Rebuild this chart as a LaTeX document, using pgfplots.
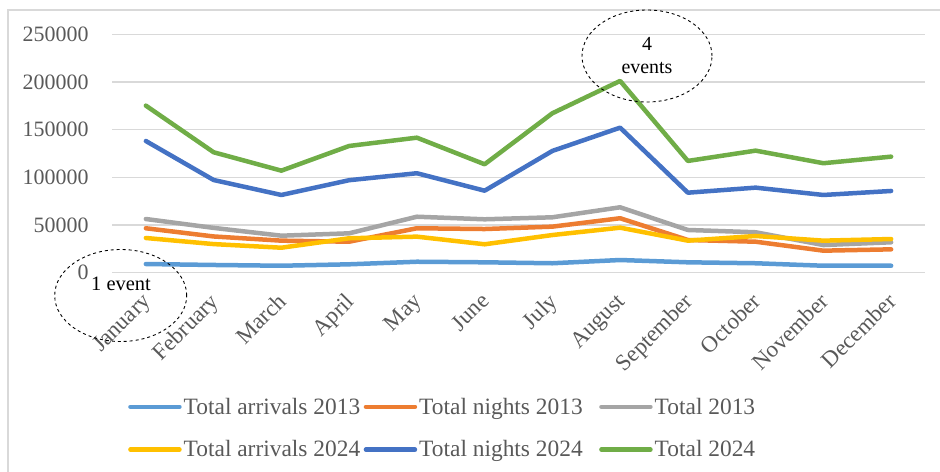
\documentclass[border=0pt]{standalone}
\usepackage{fontspec}
\setmainfont{Liberation Serif}
\usepackage{pgfplots}
\pgfplotsset{compat=1.18}
\definecolor{cA13}{HTML}{5B9BD5}
\definecolor{cN13}{HTML}{ED7D31}
\definecolor{cT13}{HTML}{A5A5A5}
\definecolor{cA24}{HTML}{FFC000}
\definecolor{cN24}{HTML}{4472C4}
\definecolor{cT24}{HTML}{70AD47}
\definecolor{gridc}{HTML}{D9D9D9}
\definecolor{tickc}{HTML}{595959}
\begin{document}
\begin{tikzpicture}
\useasboundingbox (0bp,0bp) rectangle (940bp,472bp);
\draw[gridc, line width=2bp] (8bp,0bp) -- (8bp,462bp) -- (940bp,462bp);
\begin{axis}[
  at={(112bp,199.3bp)}, anchor=south west,
  scale only axis, width=813bp, height=238.4bp,
  xmin=-0.5, xmax=11.5, ymin=0, ymax=250000,
  axis line style={draw=none},
  ymajorgrids, grid style={gridc, line width=1.2bp},
  major tick length=0pt,
  xtick={0,...,11},
  xticklabels={January,February,March,April,May,June,July,August,September,October,November,December},
  ytick={0,50000,100000,150000,200000,250000},
  scaled y ticks=false,
  /pgf/number format/.cd, fixed, 1000 sep={}, assume math mode=true, /pgfplots/.cd,
  tick label style={color=tickc},
  yticklabel style={font=\fontsize{22}{26}\selectfont, xshift=-20bp},
  xticklabel style={font=\fontsize{23}{27}\selectfont, rotate=45, anchor=north east, yshift=-6.5bp, xshift=-13.5bp},
  legend columns=3,
  legend style={draw=none, fill=none, at={(0.016,-0.508)}, anchor=north west,
     font=\fontsize{23.5}{27}\selectfont, text=tickc, row sep=21bp,
     nodes={inner sep=2bp}},
  legend cell align=left,
  legend image code/.code={\draw[#1, line cap=round] (0bp,0bp) -- (49bp,0bp);},
  every axis plot/.append style={line width=4.5bp, line join=round, line cap=round, mark=none},
  clip=false,
]
\addplot[cA13] coordinates {(0,9100)(1,8100)(2,7300)(3,8800)(4,11500)(5,10900)(6,9900)(7,13300)(8,10900)(9,9900)(10,7300)(11,7300)};
\addlegendentry{\makebox[178bp][l]{Total arrivals 2013}}
\addplot[cN13] coordinates {(0,46600)(1,38000)(2,33600)(3,32500)(4,46600)(5,45800)(6,48300)(7,57100)(8,34300)(9,32500)(10,23100)(11,24500)};
\addlegendentry{\makebox[178bp][l]{Total nights 2013}}
\addplot[cT13] coordinates {(0,56300)(1,47000)(2,38800)(3,41300)(4,58700)(5,56000)(6,58100)(7,68600)(8,44800)(9,42400)(10,29000)(11,31900)};
\addlegendentry{Total 2013}
\addplot[cA24] coordinates {(0,36400)(1,30000)(2,26200)(3,36100)(4,37800)(5,29800)(6,39500)(7,47200)(8,33600)(9,38500)(10,33600)(11,35300)};
\addlegendentry{\makebox[178bp][l]{Total arrivals 2024}}
\addplot[cN24] coordinates {(0,138100)(1,97200)(2,81500)(3,97000)(4,104300)(5,86000)(6,127700)(7,152100)(8,83900)(9,89200)(10,81500)(11,85700)};
\addlegendentry{\makebox[178bp][l]{Total nights 2024}}
\addplot[cT24] coordinates {(0,175200)(1,126300)(2,107000)(3,132900)(4,141600)(5,113700)(6,167200)(7,201100)(8,117200)(9,128000)(10,114800)(11,121700)};
\addlegendentry{Total 2024}
\end{axis}
\draw[black, dashed, line width=0.9bp] (120.7bp,176.5bp) ellipse [x radius=66bp, y radius=46bp];
\node[font=\fontsize{20.5}{24}\selectfont] at (121bp,188bp) {1 event};
\draw[black, dashed, line width=0.9bp] (647bp,416bp) ellipse [x radius=65bp, y radius=46bp];
\node[font=\fontsize{20}{24}\selectfont] at (647bp,428bp) {4};
\node[font=\fontsize{20}{24}\selectfont] at (647bp,404bp) {events};
\end{tikzpicture}
\end{document}
